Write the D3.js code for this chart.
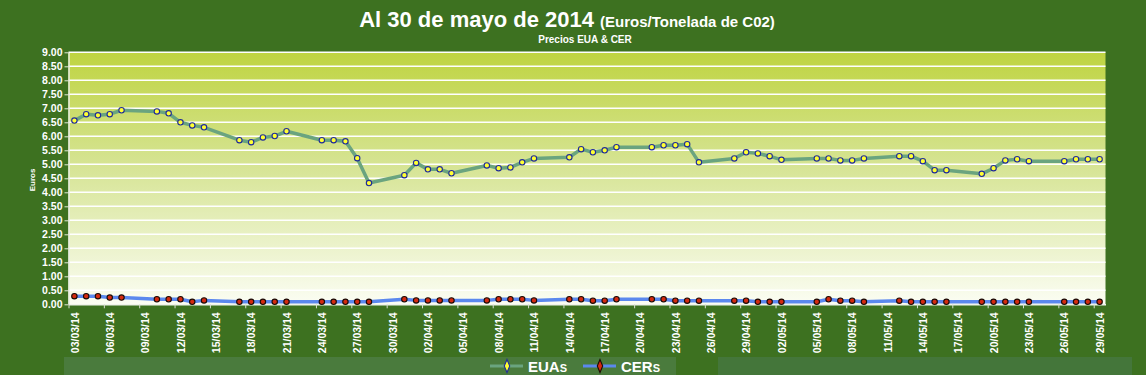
<!DOCTYPE html>
<html>
<head>
<meta charset="utf-8">
<script src="https://cdn.jsdelivr.net/npm/d3@7"></script>
<style>
  body { margin: 0; background: #3d7120; }
  svg { display: block; font-family: "Liberation Sans", Arial, sans-serif; }
</style>
</head>
<body>
<svg id="chart"></svg>
<script>
// trading days shown in the chart (dd/mm/yy)
const days = [
  '03/03/14','04/03/14','05/03/14','06/03/14','07/03/14','10/03/14','11/03/14','12/03/14','13/03/14','14/03/14',
  '17/03/14','18/03/14','19/03/14','20/03/14','21/03/14','24/03/14','25/03/14','26/03/14','27/03/14','28/03/14',
  '31/03/14','01/04/14','02/04/14','03/04/14','04/04/14','07/04/14','08/04/14','09/04/14','10/04/14','11/04/14',
  '14/04/14','15/04/14','16/04/14','17/04/14','18/04/14','21/04/14','22/04/14','23/04/14','24/04/14','25/04/14',
  '28/04/14','29/04/14','30/04/14','01/05/14','02/05/14','05/05/14','06/05/14','07/05/14','08/05/14','09/05/14',
  '12/05/14','13/05/14','14/05/14','15/05/14','16/05/14','19/05/14','20/05/14','21/05/14','22/05/14','23/05/14',
  '26/05/14','27/05/14','28/05/14','29/05/14'
];

// EUA prices
const euas = [
  6.56, 6.79, 6.75, 6.79, 6.93, 6.89, 6.82, 6.50, 6.39, 6.32,
  5.86, 5.79, 5.96, 6.01, 6.18, 5.86, 5.86, 5.82, 5.22, 4.33,
  4.61, 5.05, 4.82, 4.82, 4.68, 4.96, 4.86, 4.89, 5.07, 5.21,
  5.25, 5.54, 5.43, 5.50, 5.61, 5.61, 5.68, 5.68, 5.72, 5.07,
  5.21, 5.43, 5.39, 5.29, 5.16, 5.21, 5.21, 5.14, 5.14, 5.21,
  5.29, 5.29, 5.11, 4.79, 4.79, 4.66, 4.86, 5.14, 5.18, 5.11,
  5.11, 5.18, 5.18, 5.18
];

// CER prices
const cers = [
  0.29, 0.29, 0.29, 0.24, 0.24, 0.18, 0.18, 0.18, 0.09, 0.14,
  0.09, 0.09, 0.09, 0.09, 0.09, 0.09, 0.09, 0.09, 0.09, 0.09,
  0.18, 0.14, 0.14, 0.14, 0.14, 0.14, 0.18, 0.18, 0.18, 0.14,
  0.18, 0.18, 0.13, 0.13, 0.18, 0.18, 0.18, 0.13, 0.13, 0.13,
  0.13, 0.13, 0.09, 0.09, 0.09, 0.09, 0.18, 0.13, 0.13, 0.09,
  0.13, 0.09, 0.09, 0.09, 0.09, 0.09, 0.09, 0.09, 0.09, 0.09,
  0.09, 0.09, 0.09, 0.09
];

// x axis labels (every 3 days)
const xTicks = [
  '03/03/14','06/03/14','09/03/14','12/03/14','15/03/14','18/03/14','21/03/14','24/03/14','27/03/14','30/03/14',
  '02/04/14','05/04/14','08/04/14','11/04/14','14/04/14','17/04/14','20/04/14','23/04/14','26/04/14','29/04/14',
  '02/05/14','05/05/14','08/05/14','11/05/14','14/05/14','17/05/14','20/05/14','23/05/14','26/05/14','29/05/14'
];
const yTicks = d3.range(0, 9.01, 0.5);

const w = 1146;
const h = 375;
const pLeft = 68.5, pRight = 1105.5, pTop = 52.3, pBottom = 304.3;

const parse = d3.timeParse('%d/%m/%y');
const noon = (d) => d3.timeHour.offset(d, 12);

const svg = d3.select('#chart').attr('width', w).attr('height', h);

// background + legend band
svg.append('rect').attr('width', w).attr('height', h).attr('fill', '#3d7120');
svg.append('rect').attr('x', 64).attr('y', 357).attr('width', 612).attr('height', 18).attr('fill', '#4a7b3d');
svg.append('rect').attr('x', 718).attr('y', 357).attr('width', 414).attr('height', 18).attr('fill', '#44763a');

const xScale = d3.scaleTime()
  .domain([parse('03/03/14'), parse('30/05/14')])
  .range([pLeft, pRight]);

const yScale = d3.scaleLinear()
  .domain([0, 9])
  .range([pBottom, pTop]);

// plot area gradient
const grad = svg.append('defs').append('linearGradient')
  .attr('id', 'plotbg').attr('x1', 0).attr('y1', 0).attr('x2', 0).attr('y2', 1);
grad.append('stop').attr('offset', '0%').attr('stop-color', '#bfd441');
grad.append('stop').attr('offset', '45%').attr('stop-color', '#d6e494');
grad.append('stop').attr('offset', '100%').attr('stop-color', '#fbfdf3');

svg.append('rect')
  .attr('x', pLeft).attr('y', pTop)
  .attr('width', pRight - pLeft).attr('height', pBottom - pTop)
  .attr('fill', 'url(#plotbg)');

// gridlines
svg.append('g')
  .selectAll('line')
  .data(yTicks.filter(v => v > 0))
  .enter()
  .append('line')
  .attr('x1', pLeft).attr('x2', pRight)
  .attr('y1', d => yScale(d)).attr('y2', d => yScale(d))
  .attr('stroke', '#ffffff').attr('stroke-width', 1.6);

// axes
const yAxis = d3.axisLeft(yScale).tickValues(yTicks).tickFormat(d3.format('.2f')).tickSize(4).tickSizeOuter(0);
const gy = svg.append('g').attr('transform', 'translate(' + pLeft + ',0)').call(yAxis);
gy.select('.domain').attr('stroke', '#e8eee0').attr('stroke-width', 1.5);
gy.selectAll('.tick line').attr('stroke', '#e0e6d8');
gy.selectAll('text')
  .attr('fill', '#ffffff').attr('font-size', 10.5).attr('font-weight', 'bold')
  .attr('x', -6);

const halfDay = (xScale(parse('04/03/14')) - xScale(parse('03/03/14'))) / 2;
const xAxis = d3.axisBottom(xScale)
  .tickValues(xTicks.map(parse))
  .tickFormat(d3.timeFormat('%d/%m/%y'))
  .tickSize(4).tickSizeOuter(0);
const gx = svg.append('g').attr('transform', 'translate(0,' + pBottom + ')').call(xAxis);
gx.select('.domain').attr('stroke', '#f0f3ea').attr('stroke-width', 1.5);
gx.selectAll('.tick line').attr('stroke', '#d8ddd0');
gx.selectAll('text')
  .attr('fill', '#ffffff').attr('font-size', 10.5).attr('font-weight', 'bold')
  .attr('text-anchor', 'end')
  .attr('x', 0).attr('y', 0).attr('dy', '0.35em')
  .attr('transform', 'translate(' + halfDay + ',8) rotate(-90)');

// series
const series = [
  { name: 'EUAs', values: euas, line: '#6aa47f', fill: '#ffff33', stroke: '#1f2a9a' },
  { name: 'CERs', values: cers, line: '#5b88ee', fill: '#d42a10', stroke: '#1a0a05' }
];

const line = d3.line()
  .x(d => xScale(noon(d.date)))
  .y(d => yScale(d.value));

series.forEach(s => {
  const pts = days.map((d, i) => ({ date: parse(d), value: s.values[i] }));
  svg.append('path')
    .datum(pts)
    .attr('d', line)
    .attr('fill', 'none')
    .attr('stroke', s.line)
    .attr('stroke-width', 3.5)
    .attr('stroke-linejoin', 'round');
  svg.append('g')
    .selectAll('circle')
    .data(pts)
    .enter()
    .append('circle')
    .attr('cx', d => xScale(noon(d.date)))
    .attr('cy', d => yScale(d.value))
    .attr('r', 2.7)
    .attr('fill', s.fill)
    .attr('stroke', s.stroke)
    .attr('stroke-width', 1.1);
});

// y title
svg.append('text')
  .attr('transform', 'translate(35,180) rotate(-90)')
  .attr('text-anchor', 'middle')
  .attr('fill', '#ffffff').attr('font-size', 8).attr('font-weight', 'bold')
  .text('Euros');

// title
const title = svg.append('text')
  .attr('x', 567).attr('y', 27)
  .attr('text-anchor', 'middle')
  .attr('fill', '#ffffff').attr('font-weight', 'bold');
title.append('tspan').attr('font-size', 22).text('Al 30 de mayo de 2014 ');
title.append('tspan').attr('font-size', 15).text('(Euros/Tonelada de C02)');

svg.append('text')
  .attr('x', 585).attr('y', 43)
  .attr('text-anchor', 'middle')
  .attr('fill', '#ffffff').attr('font-size', 10).attr('font-weight', 'bold')
  .text('Precios EUA & CER');

// legend
const legendX = [490, 583];
series.forEach((s, i) => {
  const g = svg.append('g').attr('transform', 'translate(' + legendX[i] + ',366)');
  g.append('line').attr('x1', 0).attr('x2', 33).attr('y1', 0).attr('y2', 0)
    .attr('stroke', s.line).attr('stroke-width', 3);
  g.append('path')
    .attr('d', d3.symbol(d3.symbolDiamond, 40)())
    .attr('transform', 'translate(17,0) scale(0.8,1.1)')
    .attr('fill', s.fill).attr('stroke', s.stroke).attr('stroke-width', 1.3);
  g.append('text')
    .attr('x', 38).attr('y', 5.5)
    .attr('fill', '#ffffff').attr('font-size', 15).attr('font-weight', 'bold')
    .attr('font-family', '"Liberation Sans Narrow", "Arial Narrow", "Liberation Sans", sans-serif')
    .style('font-variant', 'small-caps')
    .text(s.name);
});
</script>
</body>
</html>
